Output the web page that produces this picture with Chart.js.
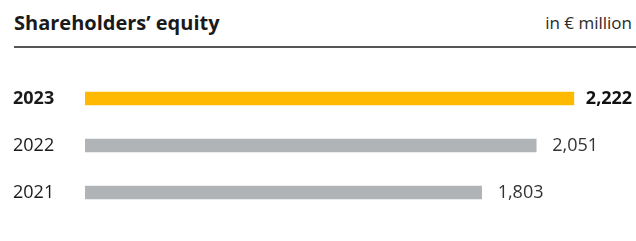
<!DOCTYPE html>
<html lang="en">
<head>
  <meta charset="UTF-8" />
  <title>Shareholders' equity</title>
  <style>
    body {
      margin: 0;
      width: 636px;
      height: 241px;
      background: #ffffff;
      font-family: "Open Sans", sans-serif;
      color: #1a1a1a;
      position: relative;
      overflow: hidden;
    }
    .title {
      position: absolute;
      left: 14px;
      top: 9px;
      font-size: 20px;
      line-height: 28px;
      font-weight: 700;
    }
    .unit {
      position: absolute;
      right: 4px;
      top: 11px;
      font-size: 17px;
      line-height: 24px;
      color: #2a2a2a;
    }
    .rule {
      position: absolute;
      left: 14px;
      right: 0;
      top: 46px;
      height: 2px;
      background: #555555;
    }
    canvas {
      position: absolute;
      left: 0;
      top: 0;
    }
  </style>
</head>
<body>
  <div class="title">Shareholders’ equity</div>
  <div class="unit">in € million</div>
  <div class="rule"></div>
  <canvas id="equityChart" width="636" height="241"></canvas>
  <script src="https://cdn.jsdelivr.net/npm/chart.js"></script>
  <script>
    const years = ["2023", "2022", "2021"];
    const equity = [2222, 2051, 1803];
    const barColors = ["#ffb900", "#b1b4b7", "#b1b4b7"];
    const highlight = [true, false, false];

    const valueLabels = {
      id: "valueLabels",
      afterDatasetsDraw(chart) {
        const ctx = chart.ctx;
        const meta = chart.getDatasetMeta(0);
        ctx.save();
        ctx.textBaseline = "middle";
        ctx.textAlign = "left";
        meta.data.forEach((bar, i) => {
          ctx.font = (highlight[i] ? "700 " : "400 ") + "18px 'Open Sans', sans-serif";
          ctx.fillStyle = highlight[i] ? "#111111" : "#333333";
          ctx.fillText(equity[i].toLocaleString("en-US"), bar.x + (highlight[i] ? 12 : 16), bar.y);
        });
        ctx.restore();
      }
    };

    new Chart(document.getElementById("equityChart"), {
      type: "bar",
      data: {
        labels: years,
        datasets: [{
          data: equity,
          backgroundColor: barColors,
          barThickness: 13,
          borderWidth: 0
        }]
      },
      options: {
        indexAxis: "y",
        responsive: false,
        animation: false,
        layout: {
          padding: { top: 75, bottom: 25, left: 13, right: 1 }
        },
        plugins: {
          legend: { display: false },
          tooltip: { enabled: false }
        },
        scales: {
          x: {
            display: false,
            min: 0,
            max: 2500
          },
          y: {
            grid: { display: false },
            border: { display: false },
            afterFit(scale) { scale.width = 72; },
            ticks: {
              crossAlign: "far",
              padding: 0,
              color: "#1a1a1a",
              font: (c) => ({
                family: "'Open Sans', sans-serif",
                size: 18,
                weight: highlight[c.index] ? "700" : "400"
              })
            }
          }
        }
      },
      plugins: [valueLabels]
    });
  </script>
</body>
</html>
